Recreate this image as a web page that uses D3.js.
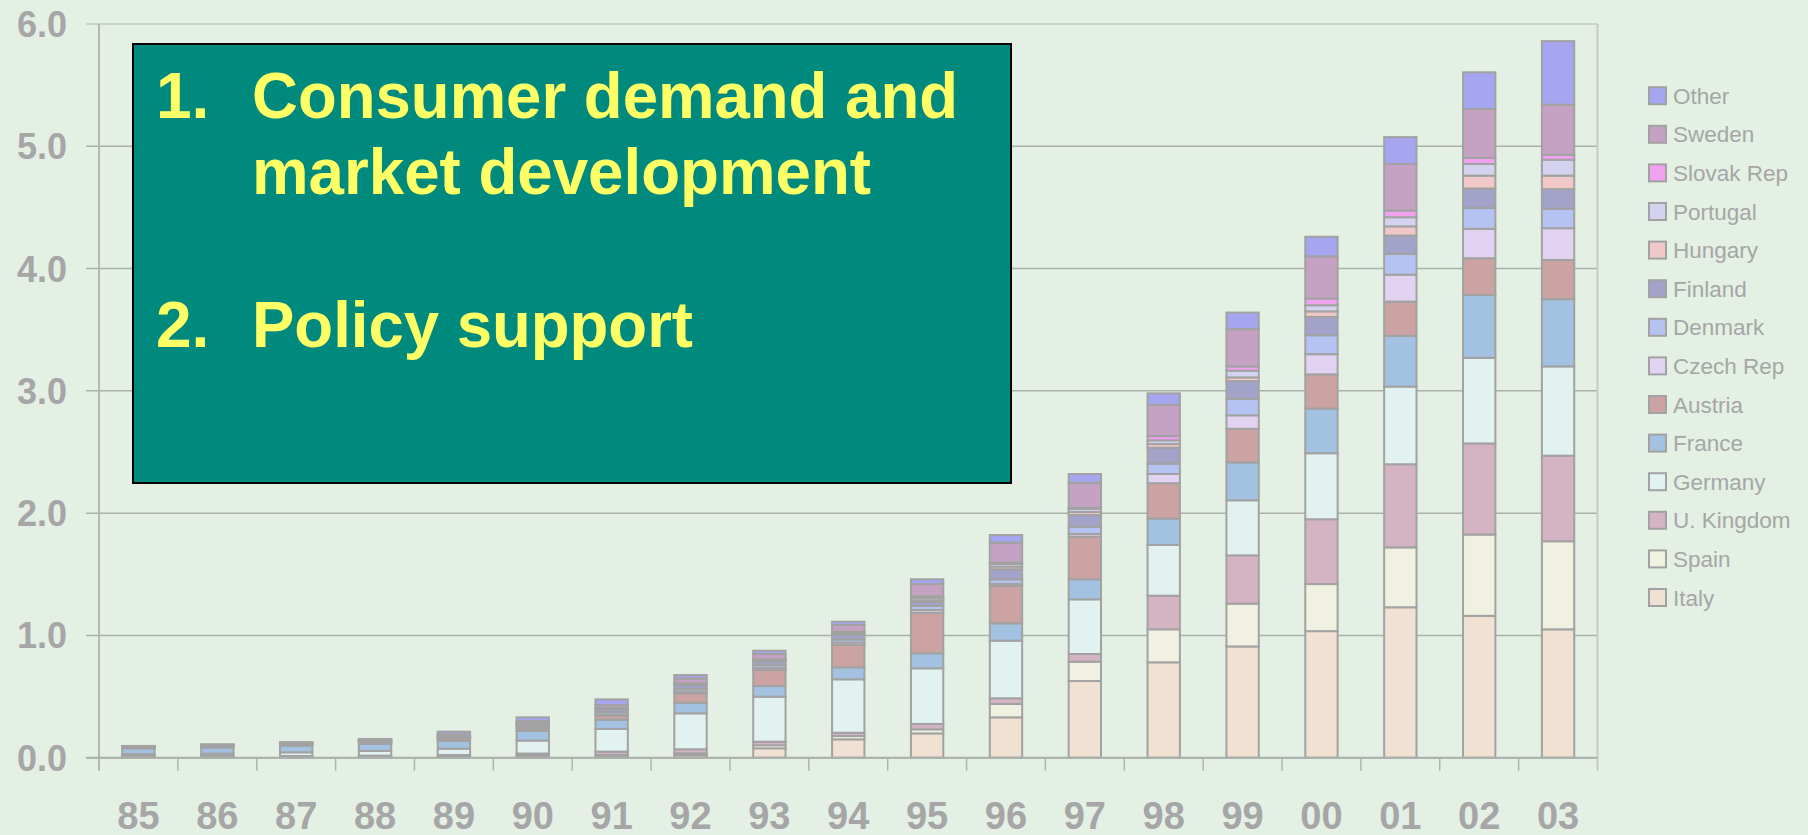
<!DOCTYPE html>
<html>
<head>
<meta charset="utf-8">
<script src="https://cdn.jsdelivr.net/npm/d3@7"></script>
<style>
  html, body { margin: 0; padding: 0; background: #e3f0e3; }
  svg { display: block; }
</style>
</head>
<body>
<div id="chart"></div>
<script>
var width = 1808;
var height = 835;

// years on the x axis
var years = ["85", "86", "87", "88", "89", "90", "91", "92", "93", "94",
             "95", "96", "97", "98", "99", "00", "01", "02", "03"];

// one array per country, 1985 -> 2003
var italy    = [0.004, 0.005, 0.005, 0.006, 0.007, 0.010, 0.012, 0.020, 0.077, 0.150, 0.199, 0.330, 0.627, 0.780, 0.910, 1.035, 1.230, 1.160, 1.050];
var spain    = [0.003, 0.003, 0.003, 0.004, 0.005, 0.008, 0.010, 0.016, 0.025, 0.027, 0.033, 0.109, 0.158, 0.270, 0.350, 0.385, 0.490, 0.665, 0.720];
var uk       = [0.006, 0.007, 0.006, 0.007, 0.010, 0.016, 0.028, 0.033, 0.029, 0.027, 0.044, 0.047, 0.063, 0.275, 0.395, 0.530, 0.680, 0.745, 0.700];
var germany  = [0.016, 0.018, 0.030, 0.038, 0.052, 0.106, 0.185, 0.294, 0.368, 0.437, 0.455, 0.471, 0.447, 0.415, 0.450, 0.540, 0.635, 0.700, 0.730];
var france   = [0.048, 0.050, 0.055, 0.057, 0.063, 0.079, 0.076, 0.087, 0.087, 0.098, 0.123, 0.142, 0.164, 0.215, 0.310, 0.365, 0.415, 0.515, 0.550];
var austria  = [0.005, 0.007, 0.008, 0.010, 0.014, 0.020, 0.035, 0.077, 0.131, 0.183, 0.332, 0.305, 0.349, 0.290, 0.275, 0.280, 0.280, 0.300, 0.320];
var czech    = [0.001, 0.001, 0.001, 0.002, 0.003, 0.006, 0.008, 0.015, 0.018, 0.020, 0.022, 0.016, 0.022, 0.075, 0.110, 0.165, 0.220, 0.240, 0.260];
var denmark  = [0.004, 0.005, 0.006, 0.008, 0.010, 0.015, 0.020, 0.020, 0.022, 0.025, 0.033, 0.039, 0.059, 0.085, 0.135, 0.155, 0.170, 0.170, 0.160];
var finland  = [0.003, 0.004, 0.004, 0.006, 0.008, 0.015, 0.025, 0.035, 0.030, 0.040, 0.035, 0.082, 0.096, 0.130, 0.145, 0.150, 0.150, 0.160, 0.160];
var hungary  = [0.001, 0.001, 0.001, 0.001, 0.001, 0.002, 0.003, 0.004, 0.006, 0.008, 0.012, 0.022, 0.025, 0.030, 0.030, 0.045, 0.075, 0.105, 0.110];
var portugal = [0.001, 0.001, 0.001, 0.001, 0.002, 0.003, 0.004, 0.005, 0.007, 0.010, 0.020, 0.021, 0.026, 0.030, 0.055, 0.050, 0.075, 0.095, 0.130];
var slovak   = [0.001, 0.001, 0.001, 0.001, 0.001, 0.002, 0.002, 0.002, 0.005, 0.005, 0.013, 0.011, 0.009, 0.035, 0.035, 0.055, 0.055, 0.050, 0.040];
var sweden   = [0.002, 0.004, 0.003, 0.008, 0.016, 0.018, 0.022, 0.040, 0.043, 0.055, 0.099, 0.164, 0.204, 0.255, 0.305, 0.345, 0.380, 0.400, 0.410];
var other    = [0.001, 0.002, 0.002, 0.004, 0.021, 0.030, 0.047, 0.028, 0.027, 0.027, 0.039, 0.062, 0.071, 0.095, 0.135, 0.160, 0.220, 0.300, 0.520];

// stacking order, bottom to top
var countries = ["Italy", "Spain", "U. Kingdom", "Germany", "France", "Austria", "Czech Rep",
                 "Denmark", "Finland", "Hungary", "Portugal", "Slovak Rep", "Sweden", "Other"];
var countryValues = [italy, spain, uk, germany, france, austria, czech,
                     denmark, finland, hungary, portugal, slovak, sweden, other];
var colors = ["#f1e1d2", "#f1f1e1", "#d4b3c3", "#e2f2f1", "#a3c2e1", "#caa3a2", "#e1d3f1",
              "#b4c3f1", "#a3a3c9", "#f0c8c8", "#d3d3f0", "#f0a2f0", "#c5a2c3", "#a5a5f0"];

var yTicks = [0, 1, 2, 3, 4, 5, 6];

var margin = { top: 24, left: 99, right: 1597.5, bottom: 757.7 };

// rows for d3.stack
var table = years.map(function (yr, i) {
    var row = { year: yr };
    countries.forEach(function (c, k) { row[c] = countryValues[k][i]; });
    return row;
});

var stacked = d3.stack().keys(countries)(table);

var x = d3.scaleBand()
    .domain(years)
    .range([margin.left, margin.right])
    .padding(0);

var y = d3.scaleLinear()
    .domain([0, 6])
    .range([margin.bottom, margin.top]);

var barW = x.bandwidth() * 0.41;

var svg = d3.select("#chart")
    .append("svg")
    .attr("width", width)
    .attr("height", height);

svg.append("rect")
    .attr("width", width)
    .attr("height", height)
    .attr("fill", "#e3f0e3");

// gridlines + y ticks
svg.append("g")
    .selectAll("line")
    .data(yTicks)
    .enter()
    .append("line")
    .attr("x1", margin.left - 13)
    .attr("x2", margin.right)
    .attr("y1", d => y(d))
    .attr("y2", d => y(d))
    .attr("stroke", d => d === 6 ? "#c4c8c4" : "#aab0aa")
    .attr("stroke-width", 1.5);

// plot area border on the right
svg.append("line")
    .attr("x1", margin.right)
    .attr("x2", margin.right)
    .attr("y1", margin.top)
    .attr("y2", margin.bottom + 13)
    .attr("stroke", "#c8cac8")
    .attr("stroke-width", 2);

// y axis line
svg.append("line")
    .attr("x1", margin.left)
    .attr("x2", margin.left)
    .attr("y1", margin.top)
    .attr("y2", margin.bottom + 13)
    .attr("stroke", "#b4b8b4")
    .attr("stroke-width", 2);

// x ticks at category boundaries
svg.append("g")
    .selectAll("line")
    .data(years.slice(1))
    .enter()
    .append("line")
    .attr("x1", d => x(d))
    .attr("x2", d => x(d))
    .attr("y1", margin.bottom)
    .attr("y2", margin.bottom + 13)
    .attr("stroke", "#b0b4b0")
    .attr("stroke-width", 1.5);

// bars
svg.append("g")
    .selectAll("g")
    .data(stacked)
    .enter()
    .append("g")
    .attr("fill", (d, i) => colors[i])
    .selectAll("rect")
    .data(d => d)
    .enter()
    .append("rect")
    .attr("x", d => x(d.data.year) + (x.bandwidth() - barW) / 2)
    .attr("y", d => y(d[1]))
    .attr("width", barW)
    .attr("height", d => y(d[0]) - y(d[1]))
    .attr("stroke", "#a2a2a2")
    .attr("stroke-width", 2);

// baseline
svg.append("line")
    .attr("x1", margin.left - 13)
    .attr("x2", margin.right)
    .attr("y1", margin.bottom)
    .attr("y2", margin.bottom)
    .attr("stroke", "#aab0aa")
    .attr("stroke-width", 2);

// y labels
svg.append("g")
    .selectAll("text")
    .data(yTicks)
    .enter()
    .append("text")
    .attr("x", 67)
    .attr("y", d => y(d))
    .attr("dy", "0.36em")
    .attr("text-anchor", "end")
    .style("font-family", "Liberation Sans, Arial, sans-serif")
    .style("font-weight", "bold")
    .style("font-size", "36px")
    .style("fill", "#a6a6a6")
    .text(d => d3.format(".1f")(d));

// x labels
svg.append("g")
    .selectAll("text")
    .data(years)
    .enter()
    .append("text")
    .attr("x", d => x(d) + x.bandwidth() / 2)
    .attr("y", 829)
    .attr("text-anchor", "middle")
    .style("font-family", "Liberation Sans, Arial, sans-serif")
    .style("font-weight", "bold")
    .style("font-size", "38px")
    .style("fill", "#a6a6a6")
    .text(d => d);

// legend, top entry is the last series
var legend = svg.append("g")
    .selectAll("g")
    .data(countries.slice().reverse())
    .enter()
    .append("g")
    .attr("transform", (d, i) => "translate(1649," + (95.7 + i * 38.6) + ")");

legend.append("rect")
    .attr("x", 0)
    .attr("y", -8.5)
    .attr("width", 17)
    .attr("height", 17)
    .attr("fill", d => colors[countries.indexOf(d)])
    .attr("stroke", "#a2a2a2")
    .attr("stroke-width", 2);

legend.append("text")
    .attr("x", 24)
    .attr("y", 0)
    .attr("dy", "0.36em")
    .style("font-family", "Liberation Sans, Arial, sans-serif")
    .style("font-size", "22.5px")
    .style("fill", "#a6a6a6")
    .text(d => d);

// the teal text box
var box = svg.append("g");

box.append("rect")
    .attr("x", 133)
    .attr("y", 44)
    .attr("width", 878)
    .attr("height", 439)
    .attr("fill", "#008a7e")
    .attr("stroke", "#000")
    .attr("stroke-width", 2);

var boxLines = [
    { x: 156, y: 118, t: "1.", len: 0 },
    { x: 252, y: 118, t: "Consumer demand and", len: 706 },
    { x: 252, y: 194, t: "market development", len: 619 },
    { x: 156, y: 347, t: "2.", len: 0 },
    { x: 252, y: 347, t: "Policy support", len: 441 }
];

boxLines.forEach(function (l) {
    var t = box.append("text")
        .attr("x", l.x)
        .attr("y", l.y)
        .style("font-family", "Liberation Sans Narrow, Arial Narrow, Liberation Sans, Arial, sans-serif")
        .style("font-weight", "bold")
        .style("font-size", "64px")
        .style("fill", "#ffff66")
        .text(l.t);
    if (l.len) {
        t.attr("textLength", l.len).attr("lengthAdjust", "spacingAndGlyphs");
    }
});
</script>
</body>
</html>
